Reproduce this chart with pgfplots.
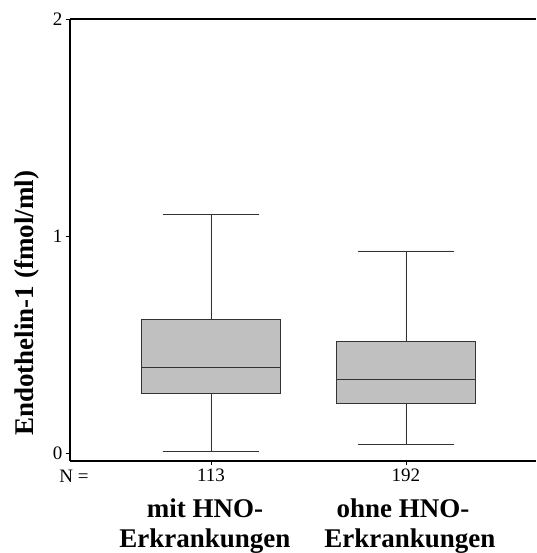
\documentclass[border=0pt]{standalone}
\usepackage{fontspec}
\setmainfont{Liberation Serif}
\usepackage{pgfplots}
\pgfplotsset{compat=1.18}
\usepgfplotslibrary{statistics}
\definecolor{boxgray}{RGB}{192,192,192}
\begin{document}
\begin{tikzpicture}
\begin{axis}[
  name=ax,
  scale only axis, width=466pt, height=442pt,
  xmin=0.277, xmax=2.667, ymin=-0.037, ymax=2,
  axis x line=box, axis y line=left,
  axis line style={-, line width=1.3pt},
  xtick={1,2}, xticklabels={113,192}, ytick={0,1,2},
  tick align=outside, major tick length=4pt,
  xtick pos=left, ytick pos=left,
  tick style={black, line width=0.6pt},
  ticklabel style={font=\fontsize{19}{22}\selectfont},
  /pgf/number format/assume math mode=true,
  clip=false,
  boxplot/draw direction=y,
  boxplot/box extend=0.713, boxplot/whisker extend=0.497,
]
\addplot[boxplot prepared={draw position=1, lower whisker=0.005, lower quartile=0.272, median=0.392, upper quartile=0.617, upper whisker=1.097}, draw=black!80, line width=0.9pt, fill=boxgray, solid, mark=none] coordinates {};
\addplot[boxplot prepared={draw position=2, lower whisker=0.041, lower quartile=0.230, median=0.341, upper quartile=0.512, upper whisker=0.931}, draw=black!80, line width=0.9pt, fill=boxgray, solid, mark=none] coordinates {};
\node[anchor=base, font=\fontsize{19}{22}\selectfont, xshift=4pt, yshift=-22pt] at (rel axis cs:0,0) {N =};
\node[anchor=base, font=\fontsize{27}{30}\selectfont\bfseries, xshift=-6pt, yshift=-56pt] at (axis cs:1,-0.037) {mit HNO-};
\node[anchor=base, font=\fontsize{27}{30}\selectfont\bfseries, xshift=-6pt, yshift=-86pt] at (axis cs:1,-0.037) {Erkrankungen};
\node[anchor=base, font=\fontsize{27}{30}\selectfont\bfseries, xshift=-3pt, yshift=-56pt] at (axis cs:2,-0.037) {ohne HNO-};
\node[anchor=base, font=\fontsize{27}{30}\selectfont\bfseries, xshift=4pt, yshift=-86pt] at (axis cs:2,-0.037) {Erkrankungen};
\node[rotate=90, anchor=base, font=\fontsize{27}{30}\selectfont\bfseries] at ([xshift=-36pt]rel axis cs:0,0.357) {Endothelin-1 (fmol/ml)};
\end{axis}
\pgfresetboundingbox
\path ([xshift=-70pt,yshift=-92pt]ax.south west) rectangle ([xshift=0pt,yshift=19pt]ax.north east);
\end{tikzpicture}
\end{document}
